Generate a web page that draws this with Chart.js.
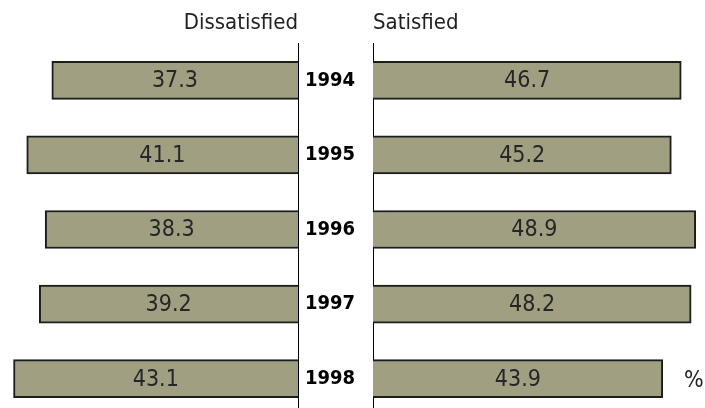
<!DOCTYPE html>
<html>
<head>
<meta charset="utf-8">
<script src="https://cdn.jsdelivr.net/npm/chart.js@4.4.1/dist/chart.umd.min.js"></script>
<style>
  html, body { margin: 0; padding: 0; background: #fff; overflow: hidden; }
  #wrap { position: relative; width: 705px; height: 408px; }
  .box { position: absolute; top: 0; height: 416px; }
  #pct { position: absolute; left: 684px; top: 366px; font: 23px 'DejaVu Sans Condensed', 'Liberation Sans', sans-serif; color: #222; }
</style>
</head>
<body>
<div id="wrap">
  <div class="box" style="left:0; width:300px;"><canvas id="left"></canvas></div>
  <div class="box" style="left:298px; width:407px;"><canvas id="right"></canvas></div>
  <div id="pct">%</div>
</div>
<script>
const years = ["1994", "1995", "1996", "1997", "1998"];
const dissatisfied = [37.3, 41.1, 38.3, 39.2, 43.1];
const satisfied = [46.7, 45.2, 48.9, 48.2, 43.9];

const FONT = "'DejaVu Sans Condensed', 'Liberation Sans', sans-serif";
const barFill = "#a19f81";
const barEdge = "#1c1c1c";

// writes the value in the middle of each bar
const valueLabels = {
  id: "valueLabels",
  afterDatasetsDraw(chart) {
    const ctx = chart.ctx;
    ctx.save();
    ctx.font = "23px " + FONT;
    ctx.fillStyle = "#262626";
    ctx.textAlign = "center";
    ctx.textBaseline = "middle";
    chart.getDatasetMeta(0).data.forEach((bar, i) => {
      const v = chart.data.datasets[0].data[i];
      ctx.fillText(v.toFixed(1), (bar.x + bar.base) / 2, bar.y + 1);
    });
    ctx.restore();
  }
};

function titleOpts(text, align) {
  return {
    display: true,
    text: text,
    align: align,
    fullSize: false,
    color: "#222",
    font: { family: FONT, size: 22, weight: "normal", lineHeight: 1.2 },
    padding: { top: 10, bottom: 6.6 }
  };
}

new Chart(document.getElementById("left"), {
  type: "bar",
  data: {
    labels: years,
    datasets: [{
      label: "Dissatisfied",
      data: dissatisfied,
      backgroundColor: barFill,
      borderColor: barEdge,
      borderWidth: 2,
      barThickness: 38
    }]
  },
  options: {
    indexAxis: "y",
    responsive: true,
    maintainAspectRatio: false,
    animation: false,
    layout: { padding: 0 },
    scales: {
      x: { display: false, reverse: true, min: 0, max: 45.15 },
      y: {
        position: "right",
        grid: { color: "transparent", drawTicks: false },
        border: { display: true, color: "#000", width: 1 },
        ticks: { display: false },
        afterFit: (scale) => {
          scale.width = 2;
          scale.paddingTop = 0;
          scale.paddingBottom = 0;
        }
      }
    },
    plugins: {
      legend: { display: false },
      tooltip: { enabled: false },
      title: titleOpts("Dissatisfied", "end")
    }
  },
  plugins: [valueLabels]
});

new Chart(document.getElementById("right"), {
  type: "bar",
  data: {
    labels: years,
    datasets: [{
      label: "Satisfied",
      data: satisfied,
      backgroundColor: barFill,
      borderColor: barEdge,
      borderWidth: 2,
      barThickness: 38
    }]
  },
  options: {
    indexAxis: "y",
    responsive: true,
    maintainAspectRatio: false,
    animation: false,
    layout: { padding: 0 },
    scales: {
      x: { display: false, min: 0, max: 50.3 },
      y: {
        position: "left",
        grid: { color: "transparent", drawTicks: false },
        border: { display: true, color: "#000", width: 1 },
        ticks: {
          crossAlign: "near",
          padding: 18,
          color: "#000",
          font: { family: FONT, size: 20, weight: "bold" }
        },
        afterFit: (scale) => {
          scale.width = 75;
          scale.paddingTop = 0;
          scale.paddingBottom = 0;
        }
      }
    },
    plugins: {
      legend: { display: false },
      tooltip: { enabled: false },
      title: titleOpts("Satisfied", "start")
    }
  },
  plugins: [valueLabels]
});
</script>
</body>
</html>
